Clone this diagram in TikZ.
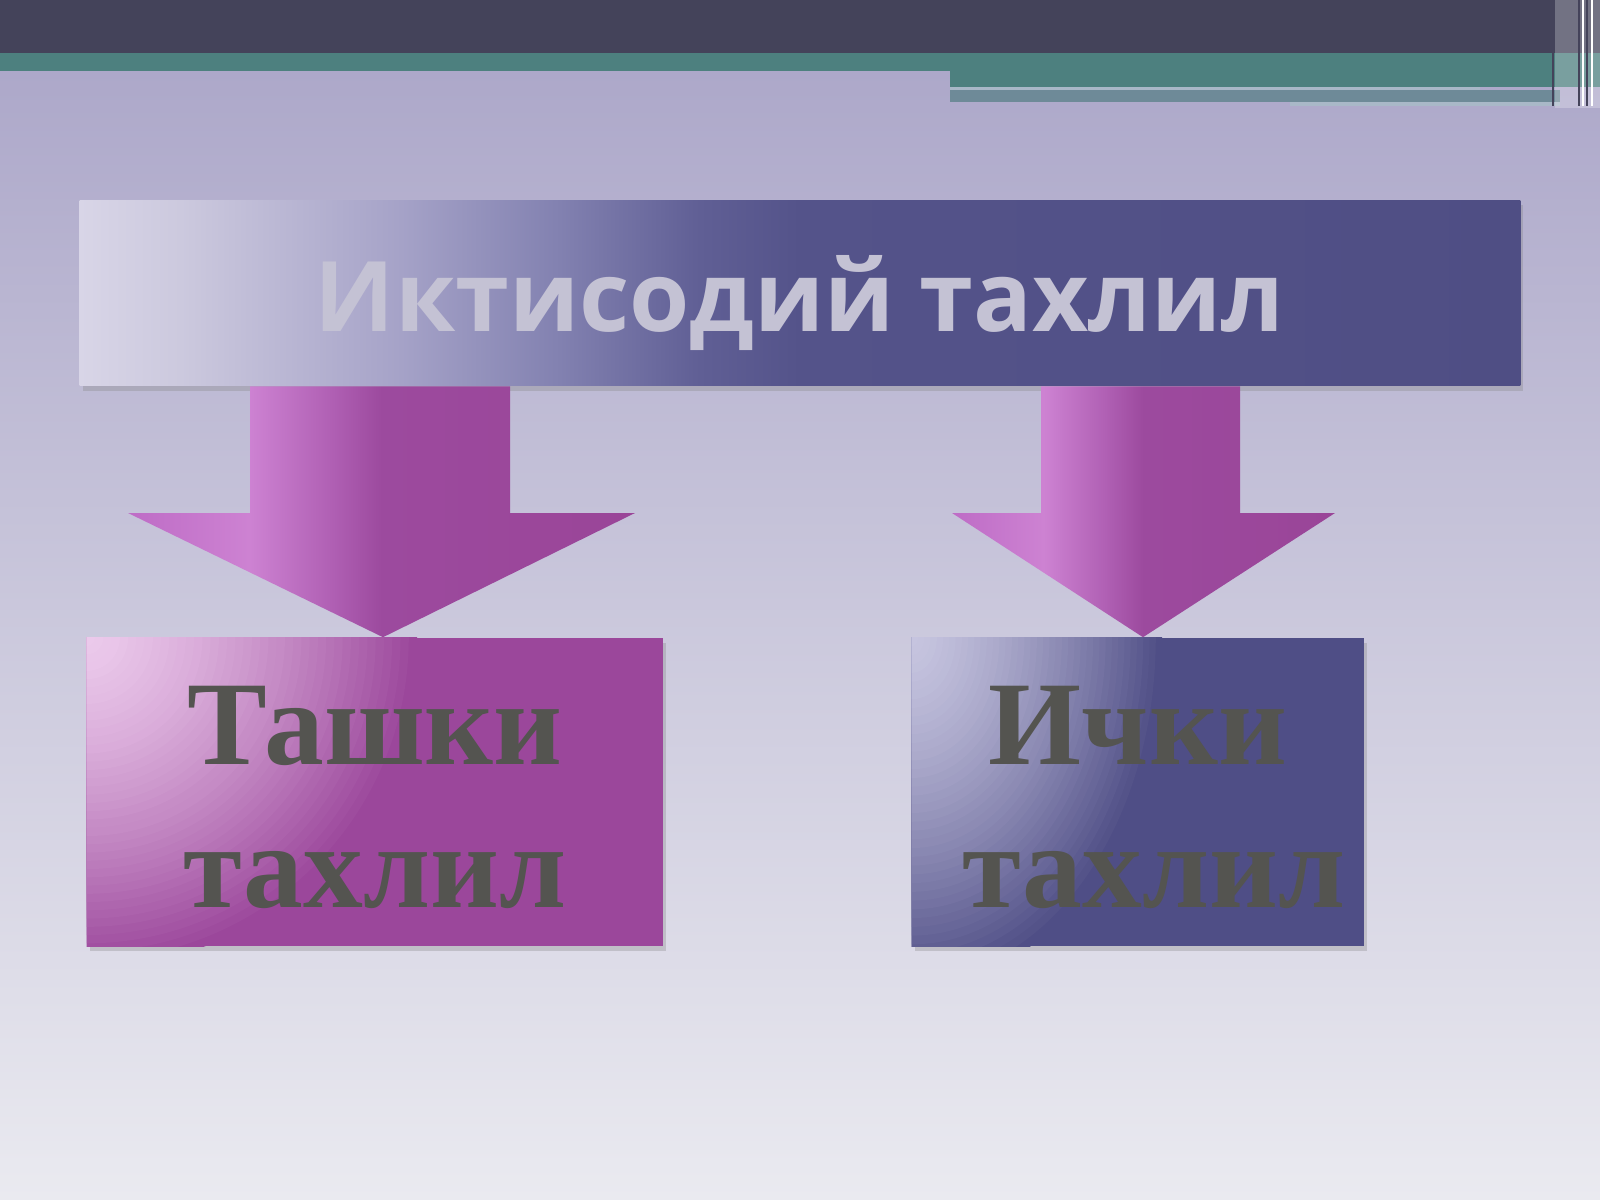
\documentclass[tikz,border=0pt]{standalone}
\usepackage{fontspec}
\setmainfont{Liberation Serif}
\newfontfamily\headfont{Open Sans}
\usepackage{tikz}
\usetikzlibrary{shadows}

\definecolor{bardark}{HTML}{44435A}
\definecolor{barteal}{HTML}{4D807F}
\definecolor{barstripe}{HTML}{A9B8C8}
\definecolor{bargrey}{HTML}{6E8A98}
\definecolor{bgtop}{HTML}{ACA7C9}
\definecolor{bgmid}{HTML}{CDCCDC}
\definecolor{bgbot}{HTML}{EAEAF0}
\definecolor{h0}{HTML}{D8D5E7}
\definecolor{h1}{HTML}{CCC9DE}
\definecolor{h2}{HTML}{A6A3C8}
\definecolor{h3}{HTML}{8382B1}
\definecolor{h4}{HTML}{605F95}
\definecolor{h5}{HTML}{54538A}
\definecolor{h6}{HTML}{4F4E84}
\definecolor{headtext}{HTML}{C4C2D4}
\definecolor{m0}{HTML}{BE6CC6}
\definecolor{m1}{HTML}{CD82D2}
\definecolor{m2}{HTML}{B060B4}
\definecolor{m3}{HTML}{9C4A9E}
\definecolor{m4}{HTML}{9A4598}
\definecolor{p0}{HTML}{EBC9EB}
\definecolor{p3}{HTML}{9B479B}
\definecolor{q0}{HTML}{C6C4DF}
\definecolor{q3}{HTML}{4F4E86}
\definecolor{boxtext}{HTML}{545450}

\pgfdeclarehorizontalshading{headshade}{100bp}{color(0bp)=(h0); color(25bp)=(h0); color(28.5bp)=(h1); color(36bp)=(h2); color(41.5bp)=(h3); color(46.5bp)=(h4); color(50bp)=(h5); color(75bp)=(h6); color(100bp)=(h6)}
\pgfdeclarehorizontalshading{magarrow}{100bp}{color(0bp)=(m0); color(25bp)=(m0); color(37bp)=(m1); color(45bp)=(m2); color(50bp)=(m3); color(75bp)=(m4); color(100bp)=(m4)}

\tikzset{
  head/.style={shade, shading=headshade, minimum width=14.4cm, minimum height=1.85cm,
    text height=0.97cm, text depth=0.2cm,
    text=headtext, font=\headfont\bfseries\fontsize{27.7}{32}\selectfont,
    drop shadow={opacity=0.3, shadow xshift=0.03cm, shadow yshift=-0.05cm}},
  box/.style={minimum height=3.08cm, inner sep=0pt, align=center,
    text=boxtext, font=\bfseries\fontsize{34}{40.7}\selectfont,
    drop shadow={opacity=0.3, shadow xshift=0.03cm, shadow yshift=-0.05cm}},
  pinkbox/.style={box, fill=p3, path picture={
    \foreach \i in {40,39,...,1}{
      \pgfmathtruncatemacro\pct{100*(\i/40)^1.4}
      \fill[p3!\pct!p0] (path picture bounding box.north west) circle ({3.3cm*\i/40});}}},
  bluebox/.style={box, fill=q3, path picture={
    \foreach \i in {40,39,...,1}{
      \pgfmathtruncatemacro\pct{100*(\i/40)^1.4}
      \fill[q3!\pct!q0] (path picture bounding box.north west) ellipse ({2.5cm*\i/40} and {3.5cm*\i/40});}}},
  fat/.style={shade, shading=magarrow}
}

\begin{document}
\begin{tikzpicture}[x=0.01cm, y=-0.01cm]
\useasboundingbox (0,0) rectangle (1600,1200);
\shade[top color=bgtop, middle color=bgmid, bottom color=bgbot] (0,53) rectangle (1600,1200);
\fill[bardark] (0,0) rectangle (1600,53);
\fill[barteal] (0,53) rectangle (1600,71);
\fill[barteal] (950,53) rectangle (1600,87);
\fill[barstripe] (950,87) rectangle (1480,90);
\fill[bargrey] (950,90) rectangle (1560,102);
\fill[barstripe] (1290,102) rectangle (1560,106);
\fill[white, opacity=0.25] (1555,0) rectangle (1600,108);
\foreach \x in {1553,1579,1587} \draw[bardark, line width=0.6pt] (\x,0) -- (\x,106);
\foreach \x in {1583,1592} \draw[white, line width=0.8pt] (\x,0) -- (\x,106);

\node[head] (T) at (800,293) {Иктисодий тахлил};
\node[pinkbox, minimum width=5.76cm] (L) at (375,792) {\rule{0pt}{25.5pt}Ташки\\тахлил};
\node[bluebox, minimum width=4.52cm] (R) at (1138,792) {\rule{0pt}{25.5pt}Ички\\\hspace*{0.32cm}тахлил};

\path[fat] (T.south -| 250,0) -- (T.south -| 510,0) -- (510,513) -- (635,513) -- (L.north -| 383,0) -- (128,513) -- (250,513) -- cycle;
\path[fat] (T.south -| 1041,0) -- (T.south -| 1240,0) -- (1240,513) -- (1335,513) -- (R.north -| 1143,0) -- (952,513) -- (1041,513) -- cycle;
\end{tikzpicture}
\end{document}
